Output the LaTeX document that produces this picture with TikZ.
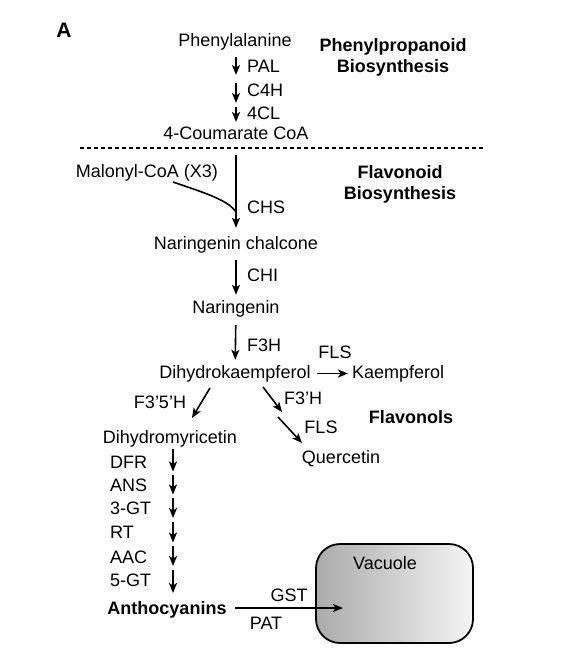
\documentclass[tikz,border=0pt]{standalone}
\usepackage{fontspec}
\setmainfont{Liberation Sans}
\usetikzlibrary{arrows.meta,positioning}

\begin{document}
\begin{tikzpicture}[x=1pt,y=-1pt,font=\fontsize{18}{20.5}\selectfont]
\tikzstyle{every node}+=[inner sep=0pt]
\tikzstyle{chem}=[text height=13pt,text depth=4pt]
\tikzstyle{enz}=[anchor=base west]
\tikzstyle{heading}=[font=\fontsize{18}{21}\selectfont\bfseries,align=center]
\tikzstyle{flux}=[black,line width=1.6pt,-{Stealth[length=10pt,width=8pt,inset=2.5pt]}]
\useasboundingbox (0,0) rectangle (565,668);
% panel letter and section headings
\node (panel) at (64,30.5) {\fontsize{21}{24}\selectfont\bfseries A};
\node [heading] (ppb) at (393,57) {Phenylpropanoid\\Biosynthesis};
\node [heading] (fvb) at (400,184) {Flavonoid\\Biosynthesis};
\node [chem,font=\fontsize{18}{21}\selectfont\bfseries] (fvl) at (411,419) {Flavonols};
\draw [black,line width=1.8pt,dash pattern=on 4pt off 3pt] (80,148) -- (485,148);
% phenylpropanoid steps
\node [chem] (phe) at (235,42) {Phenylalanine};
\node [chem] (coum) at (236,135) {4-Coumarate CoA};
\coordinate (u0) at (236,57);
\coordinate (u1) at (236,79);
\coordinate (u2) at (236,105);
\coordinate (u3) at (236,122);
\draw [flux,shorten >=4pt] (u0) -- (u1);
\draw [flux,shorten <=4pt,shorten >=2pt] (u1) -- (u2);
\draw [flux,shorten <=2pt] (u2) -- (u3);
\node [enz] (pal) at (247,72.5) {PAL};
\node [enz] (c4h) at (247,96.5) {C4H};
\node [enz] (cl4) at (247,120) {4CL};
% flavonoid core
\node [chem] (mal) at (147,173) {Malonyl-CoA (X3)};
\node [chem] (chal) at (236,245) {Naringenin chalcone};
\node [chem] (nar) at (236,309) {Naringenin};
\node [chem] (dhk) at (235,373.5) {Dihydrokaempferol};
\node [chem,anchor=west] (kae) at (352,373.5) {Kaempferol};
\coordinate (m0) at (173,182);
\coordinate (join) at (236,212);
\draw [flux,shorten <=11.5pt,shorten >=8.5pt] (coum) -- (chal);
\draw [black,line width=1.6pt] (m0) .. controls (205,193) and (228,200) .. (join);
\node [enz] (chs) at (247,213.5) {CHS};
\draw [flux,shorten <=6.5pt,shorten >=5.5pt] (chal) -- (nar);
\node [enz] (chi) at (247,281.5) {CHI};
\draw [flux,shorten <=7.5pt,shorten >=5pt] (nar) -- (dhk);
\node [enz] (f3h) at (247,351.5) {F3H};
\draw [flux,shorten <=6pt,shorten >=4pt] (dhk.east) -- (kae.west);
\node [chem] (fls1) at (335,354) {FLS};
% branches
\node [chem] (dmy) at (170,439) {Dihydromyricetin};
\node [chem] (que) at (341,459) {Quercetin};
\coordinate (b0) at (210,388);
\coordinate (b1) at (192,418);
\draw [flux] (b0) -- (b1);
\node [chem] (f35h) at (160,404) {F3'5'H};
\coordinate (q0) at (263,387);
\coordinate (q1) at (282,412);
\coordinate (q2) at (278,417);
\coordinate (q3) at (302,443);
\draw [flux] (q0) -- (q1);
\draw [flux] (q2) -- (q3);
\node [chem] (f3ph) at (303,400) {F3'H};
\node [chem] (fls2) at (321,429) {FLS};
% anthocyanin ladder
\coordinate (k0) at (173,447.5);
\foreach \e/\y [count=\i] in {DFR/468.5,ANS/491.5,3-GT/514.5,RT/538.5,AAC/563.5,5-GT/586.5} {
  \node [enz] (e\i) at (110,\y) {\e};
}
\foreach \b [count=\i] in {473.5,496.5,520,544.5,568,593} {
  \coordinate (k\i) at (173,\b);
}
\foreach \i [evaluate=\i as \j using int(\i-1)] in {1,...,5} {
  \draw [flux,shorten <=1.5pt,shorten >=2pt] (k\j) -- (k\i);
}
\draw [flux,shorten <=2pt] (k5) -- (k6);
\node [chem,font=\fontsize{18}{21}\selectfont\bfseries] (anth) at (167,610) {Anthocyanins};
% vacuole transport
\node [draw=black,line width=1.8pt,rounded corners=24pt,left color=black!33,right color=black!4,
  minimum width=157pt,minimum height=99pt] (vac) at (394.5,593.5) {};
\node [chem] (vlab) at (385,565) {Vacuole};
\coordinate (vin) at (343,608);
\draw [flux,shorten <=8pt] (vin -| anth.east) -- (vin);
\node [chem] (gst) at (289,597) {GST};
\node [chem] (pat) at (266,625) {PAT};
\end{tikzpicture}
\end{document}
